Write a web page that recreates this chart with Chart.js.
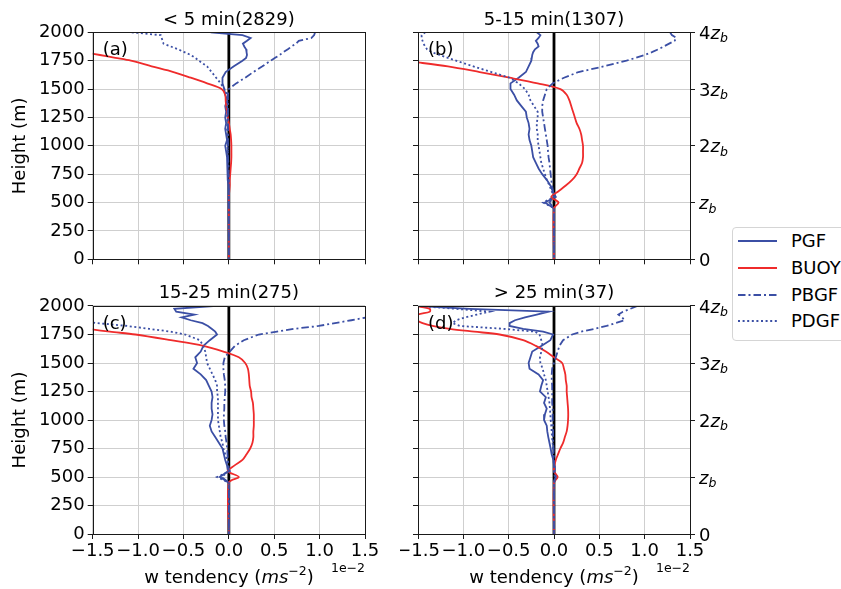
<!DOCTYPE html>
<html>
<head>
<meta charset="utf-8">
<title>w tendency profiles</title>
<script src="https://cdn.jsdelivr.net/npm/chart.js@4.4.1/dist/chart.umd.min.js"></script>
<style>
  html, body { margin: 0; padding: 0; background: #fff; }
  body { position: relative; width: 841px; height: 589px; overflow: hidden; font-family: "DejaVu Sans", sans-serif; color: #000; }
  canvas { position: absolute; }
  .xlabel { position: absolute; top: 566px; width: 260px; margin-left: -130px; text-align: center; font-size: 18px; line-height: 22px; white-space: nowrap; }
  .xlabel sup { font-size: 12.5px; vertical-align: 0; position: relative; top: -8px; }
  .legend { position: absolute; left: 732px; top: 227px; width: 130px; height: 112px; border: 1px solid #d5d5d5; border-radius: 4px; background: #fff; }
  .legend .item { position: absolute; left: 5px; height: 22px; width: 120px; font-size: 18px; line-height: 22px; white-space: nowrap; }
  .legend svg { position: absolute; left: 0; top: 6px; }
  .legend span { position: absolute; left: 53px; top: 0; }
</style>
</head>
<body>
<canvas id="panelA" width="380" height="275" style="left:0;top:0"></canvas>
<canvas id="panelB" width="340" height="275" style="left:400px;top:0"></canvas>
<canvas id="panelC" width="380" height="315" style="left:0;top:274px"></canvas>
<canvas id="panelD" width="340" height="315" style="left:400px;top:274px"></canvas>
<div class="xlabel" style="left:229px">w tendency (<i>ms</i><sup>−2</sup>)</div>
<div class="xlabel" style="left:554px">w tendency (<i>ms</i><sup>−2</sup>)</div>
<div class="legend" id="legend"></div>
<script>
// Profiles of w tendency (units of 1e-2 m s^-2) against height (m)

const heights = [2000, 1975, 1950, 1925, 1900, 1875, 1850, 1825, 1800, 1775, 1750,
  1700, 1650, 1600, 1550, 1500, 1450, 1400, 1350, 1300, 1250, 1200, 1150, 1100, 1050, 1000,
  950, 900, 850, 800, 750, 700, 650, 600, 550, 500, 450, 0];

const seriesNames = ['PGF', 'BUOY', 'PBGF', 'PDGF'];
const panelTitles = ['< 5 min(2829)', '5-15 min(1307)', '15-25 min(275)', '> 25 min(37)'];
const panelLabels = ['(a)', '(b)', '(c)', '(d)'];
const zeroLineHeights = [0, 2000];
const zbMultiples = [0, 1, 2, 3, 4];
const zb = 500;

// (a) < 5 min
const pgfA = [-0.20, 0.15, 0.24, 0.20, 0.155, 0.17, 0.19, 0.195, 0.20, 0.19, 0.15,
  0.055, -0.035, -0.07, -0.07, -0.05, -0.04, -0.02, -0.04, -0.03, -0.04, -0.03, -0.04, -0.03, -0.02, -0.04,
  -0.03, -0.02, -0.02, -0.01, -0.01, -0.01, -0.005, 0, 0, 0, 0, 0];
const buoyA = [-3.2, -3.0, -2.7, -2.45, -2.2, -1.98, -1.78, -1.6, -1.42, -1.25, -1.08,
  -0.85, -0.61, -0.42, -0.24, -0.08, -0.04, -0.035, -0.03, -0.02, -0.01, 0.0, 0.01, 0.02, 0.025, 0.028,
  0.028, 0.028, 0.025, 0.02, 0.015, 0.01, 0.01, 0.005, 0, 0, 0, 0];
const pbgfA = [0.95, 0.94, 0.91, 0.77, 0.74, 0.69, 0.65, 0.60, 0.56, 0.51, 0.46,
  0.37, 0.27, 0.18, 0.08, 0.0, -0.01, -0.01, -0.01, -0.01, -0.01, -0.01, -0.01, -0.01, -0.01, -0.01,
  -0.01, -0.01, -0.005, -0.005, -0.005, 0, 0, 0, 0, 0, 0, 0];
const pdgfA = [-1.07, -0.75, -0.74, -0.73, -0.72, -0.64, -0.56, -0.49, -0.42, -0.37, -0.33,
  -0.24, -0.19, -0.14, -0.09, -0.05, -0.02, -0.015, -0.02, -0.015, -0.02, -0.015, -0.02, -0.015, -0.01, -0.015,
  -0.01, -0.01, -0.01, -0.005, -0.005, 0, 0, 0, 0, 0, 0, 0];

// (b) 5-15 min
const pgfB = [-0.19, -0.15, -0.17, -0.20, -0.18, -0.17, -0.21, -0.23, -0.24, -0.245, -0.25,
  -0.28, -0.31, -0.39, -0.48, -0.48, -0.44, -0.41, -0.36, -0.31, -0.30, -0.28, -0.27, -0.28, -0.27, -0.25,
  -0.24, -0.23, -0.20, -0.17, -0.13, -0.08, -0.04, -0.015, 0.02, -0.10, 0, 0];
const buoyB = [-3.65, -3.45, -3.25, -3.05, -2.85, -2.65, -2.45, -2.25, -2.05, -1.85, -1.65,
  -1.17, -0.82, -0.49, -0.18, 0.07, 0.14, 0.17, 0.19, 0.21, 0.23, 0.25, 0.28, 0.30, 0.31, 0.32,
  0.32, 0.32, 0.31, 0.28, 0.25, 0.20, 0.13, 0.05, -0.03, 0.05, 0, 0];
const pbgfB = [1.28, 1.30, 1.35, 1.33, 1.27, 1.21, 1.15, 1.08, 1.00, 0.90, 0.80,
  0.55, 0.27, 0.11, -0.015, -0.08, -0.10, -0.12, -0.13, -0.13, -0.12, -0.11, -0.10, -0.09, -0.08, -0.07,
  -0.066, -0.06, -0.05, -0.044, -0.037, -0.03, -0.022, -0.01, 0, -0.05, 0, 0];
const pdgfB = [-1.42, -1.46, -1.46, -1.45, -1.44, -1.42, -1.40, -1.35, -1.26, -1.17, -1.08,
  -0.89, -0.69, -0.49, -0.39, -0.32, -0.28, -0.26, -0.22, -0.18, -0.18, -0.19, -0.19, -0.18, -0.18, -0.17,
  -0.16, -0.15, -0.14, -0.12, -0.10, -0.08, -0.05, -0.026, 0, -0.12, 0, 0];

// (c) 15-25 min
const pgfC = [-0.17, -0.60, -0.58, -0.38, -0.52, -0.42, -0.29, -0.23, -0.19, -0.15, -0.13,
  -0.21, -0.28, -0.31, -0.37, -0.35, -0.39, -0.31, -0.25, -0.22, -0.19, -0.18, -0.19, -0.19, -0.18, -0.19,
  -0.21, -0.19, -0.15, -0.11, -0.07, -0.055, -0.04, -0.02, -0.01, -0.10, 0, 0];
const buoyC = [-3.15, -2.95, -2.75, -2.55, -2.35, -2.15, -1.95, -1.75, -1.55, -1.31, -1.03,
  -0.64, -0.28, -0.06, 0.11, 0.18, 0.21, 0.22, 0.225, 0.23, 0.245, 0.25, 0.265, 0.27, 0.275, 0.275,
  0.275, 0.27, 0.27, 0.26, 0.235, 0.195, 0.15, 0.06, -0.01, 0.11, 0, 0];
const pbgfC = [2.4, 2.2, 2.0, 1.8, 1.52, 1.35, 1.17, 0.99, 0.72, 0.53, 0.33,
  0.165, 0.066, 0.01, -0.045, -0.06, -0.06, -0.055, -0.045, -0.04, -0.04, -0.045, -0.05, -0.05, -0.055, -0.055,
  -0.05, -0.04, -0.035, -0.025, -0.018, -0.015, -0.01, -0.005, 0, -0.08, 0, 0];
const pdgfC = [-2.8, -2.6, -2.4, -2.2, -1.95, -1.7, -1.45, -1.12, -0.88, -0.64, -0.48,
  -0.32, -0.28, -0.26, -0.25, -0.24, -0.21, -0.18, -0.15, -0.13, -0.13, -0.12, -0.12, -0.12, -0.12, -0.12,
  -0.11, -0.10, -0.09, -0.07, -0.06, -0.04, -0.02, -0.01, 0.01, -0.13, 0, 0];

// (d) > 25 min
const pgfD = [-1.48, -0.93, -0.06, -0.19, -0.32, -0.43, -0.49, -0.49, -0.34, -0.12, -0.01,
  -0.04, -0.14, -0.24, -0.26, -0.28, -0.27, -0.17, -0.12, -0.14, -0.155, -0.09, -0.11, -0.08, -0.10, -0.11,
  -0.08, -0.074, -0.063, -0.05, -0.037, -0.026, -0.007, 0, 0.01, 0.02, 0, 0];
const buoyD = [-1.52, -1.37, -1.37, -1.50, -1.51, -1.51, -1.45, -1.34, -1.15, -0.88, -0.60,
  -0.34, -0.20, -0.09, 0.0, 0.09, 0.11, 0.125, 0.13, 0.14, 0.14, 0.145, 0.15, 0.155, 0.157, 0.155,
  0.15, 0.14, 0.12, 0.10, 0.07, 0.045, 0.02, 0.005, 0, 0.04, 0, 0];
const pbgfD = [0.92, 0.84, 0.76, 0.71, 0.75, 0.78, 0.68, 0.58, 0.45, 0.30, 0.20,
  0.10, 0.06, 0.04, 0.02, 0.0, -0.02, -0.025, -0.025, -0.02, -0.02, -0.02, -0.02, -0.015, -0.015, -0.015,
  -0.01, -0.01, -0.01, -0.01, -0.005, -0.005, 0, 0, 0, 0.02, 0, 0];
const pdgfD = [-1.48, -1.08, -0.71, -0.85, -0.98, -1.08, -1.12, -1.04, -0.56, -0.21, -0.16,
  -0.14, -0.125, -0.14, -0.155, -0.15, -0.125, -0.11, -0.09, -0.08, -0.07, -0.06, -0.05, -0.045, -0.04, -0.037,
  -0.03, -0.026, -0.022, -0.015, -0.011, -0.007, -0.004, 0, 0, 0.01, 0, 0];

const BLUE = '#3b4fa5';
const RED = '#ef2b2b';
const GRID = '#cfcfcf';
const AXIS = '#1a1a1a';
const FONT = '"DejaVu Sans", sans-serif';

const seriesStyles = [
    { color: BLUE, dash: [], order: 4, tension: 0 },
    { color: RED, dash: [], order: 3, tension: 0.3 },
    { color: BLUE, dash: [7.5, 3, 2, 3], order: 2, tension: 0 },
    { color: BLUE, dash: [2, 2.6], order: 1, tension: 0 }
];

// frame, panel letter, z_b tick labels and the 1e-2 offset text
const panelDecor = {
    id: 'panelDecor',
    afterDraw(chart, args, opts) {
        const { ctx, chartArea: a } = chart;
        ctx.save();
        ctx.strokeStyle = AXIS;
        ctx.lineWidth = 1;
        ctx.strokeRect(Math.round(a.left) + 0.5, Math.round(a.top) + 0.5,
            Math.round(a.right) - Math.round(a.left), Math.round(a.bottom) - Math.round(a.top));

        ctx.fillStyle = '#000';
        ctx.font = '18px ' + FONT;
        ctx.textAlign = 'left';
        ctx.textBaseline = 'middle';
        ctx.fillText(opts.label, a.left + 10, a.top + 18);

        if (opts.zbAxis) {
            const scale = chart.scales.y2;
            ctx.textBaseline = 'alphabetic';
            zbMultiples.forEach(k => {
                const base = scale.getPixelForValue(k * zb) + 6.5;
                let x = a.right + 9;
                ctx.font = '18px ' + FONT;
                if (k === 0) {
                    ctx.fillText('0', x, base);
                    return;
                }
                if (k > 1) {
                    ctx.fillText(String(k), x, base);
                    x += ctx.measureText(String(k)).width;
                }
                ctx.font = 'italic 18px ' + FONT;
                ctx.fillText('z', x, base);
                x += ctx.measureText('z').width;
                ctx.font = 'italic 12.5px ' + FONT;
                ctx.fillText('b', x, base + 3.5);
            });
        }

        if (opts.offsetText) {
            ctx.font = '12.5px ' + FONT;
            ctx.textAlign = 'right';
            ctx.textBaseline = 'middle';
            ctx.fillText('1e\u22122', a.right, a.bottom + 35);
        }
        ctx.restore();
    }
};

function profile(values) {
    return heights.map((h, i) => ({ x: values[i], y: h }));
}

function makePanel(canvasId, idx, series, cfg) {
    const datasets = series.map((values, i) => ({
        label: seriesNames[i],
        data: profile(values),
        showLine: true,
        borderColor: seriesStyles[i].color,
        borderDash: seriesStyles[i].dash,
        borderWidth: 1.8,
        pointRadius: 0,
        fill: false,
        tension: seriesStyles[i].tension,
        order: seriesStyles[i].order
    }));
    datasets.push({
        label: 'zero',
        data: zeroLineHeights.map(h => ({ x: 0, y: h })),
        showLine: true,
        borderColor: '#000',
        borderWidth: 2.8,
        pointRadius: 0,
        order: 5
    });

    const scales = {
        x: {
            type: 'linear',
            min: -1.5,
            max: 1.5,
            ticks: {
                stepSize: 0.5,
                autoSkip: false,
                maxRotation: 0,
                minRotation: 0,
                padding: 2,
                color: '#000',
                font: { family: FONT, size: 18 },
                callback: v => cfg.xLabels ? Number(v).toFixed(1).replace('-', '\u2212') : ''
            },
            grid: { color: GRID, lineWidth: 1, tickColor: AXIS, tickLength: 5 },
            border: { display: false },
            afterFit: s => { s.height = cfg.xHeight; s.paddingLeft = 0; s.paddingRight = 0; }
        },
        y: {
            type: 'linear',
            min: 0,
            max: 2000,
            ticks: {
                stepSize: 250,
                padding: 3,
                color: '#000',
                font: { family: FONT, size: 18 },
                callback: v => cfg.yLabels ? String(v) : ''
            },
            grid: { color: GRID, lineWidth: 1, tickColor: AXIS, tickLength: 5 },
            border: { display: false },
            title: {
                display: cfg.yLabels,
                text: 'Height (m)',
                color: '#000',
                font: { family: FONT, size: 18 },
                padding: { top: 10, bottom: 0 }
            },
            afterFit: s => { s.width = cfg.yWidth; s.paddingTop = 0; s.paddingBottom = 0; }
        }
    };
    if (cfg.zbAxis) {
        scales.y2 = {
            type: 'linear',
            position: 'right',
            min: 0,
            max: 2000,
            afterBuildTicks: axis => { axis.ticks = zbMultiples.map(k => ({ value: k * zb })); },
            ticks: { callback: () => '' },
            grid: { drawOnChartArea: false, tickColor: AXIS, tickLength: 5 },
            border: { display: false },
            afterFit: s => { s.width = cfg.y2Width; s.paddingTop = 0; s.paddingBottom = 0; }
        };
    }

    return new Chart(document.getElementById(canvasId), {
        type: 'scatter',
        data: { datasets },
        options: {
            responsive: false,
            animation: false,
            events: [],
            layout: { padding: { left: 0, right: cfg.padRight, top: 0, bottom: 0 } },
            scales,
            plugins: {
                legend: { display: false },
                tooltip: { enabled: false },
                title: {
                    display: true,
                    text: panelTitles[idx],
                    fullSize: false,
                    color: '#000',
                    font: { family: FONT, size: 18, weight: 'normal' },
                    padding: cfg.titlePad
                },
                panelDecor: { label: panelLabels[idx], zbAxis: cfg.zbAxis, offsetText: cfg.xLabels }
            }
        },
        plugins: [panelDecor]
    });
}

const topRow = { titlePad: { top: 9.2, bottom: 1.5 }, xHeight: 15.7, xLabels: false };
const bottomRow = { titlePad: { top: 8.2, bottom: 2.2 }, xHeight: 55, xLabels: true };
const leftCol = { yWidth: 92.7, padRight: 15, yLabels: true, zbAxis: false };
const rightCol = { yWidth: 18, y2Width: 50, padRight: 0, yLabels: false, zbAxis: true };

makePanel('panelA', 0, [pgfA, buoyA, pbgfA, pdgfA], { ...topRow, ...leftCol });
makePanel('panelB', 1, [pgfB, buoyB, pbgfB, pdgfB], { ...topRow, ...rightCol });
makePanel('panelC', 2, [pgfC, buoyC, pbgfC, pdgfC], { ...bottomRow, ...leftCol });
makePanel('panelD', 3, [pgfD, buoyD, pbgfD, pdgfD], { ...bottomRow, ...rightCol });

// legend
const legend = document.getElementById('legend');
seriesNames.forEach((name, i) => {
    const st = seriesStyles[i];
    const item = document.createElement('div');
    item.className = 'item';
    item.style.top = (2 + i * 26.8) + 'px';
    item.innerHTML = `<svg width="40" height="10"><line x1="0" y1="5" x2="39" y2="5" stroke="${st.color}" stroke-width="1.8" stroke-dasharray="${st.dash.join(' ')}"/></svg><span>${name}</span>`;
    legend.appendChild(item);
});
</script>
</body>
</html>
